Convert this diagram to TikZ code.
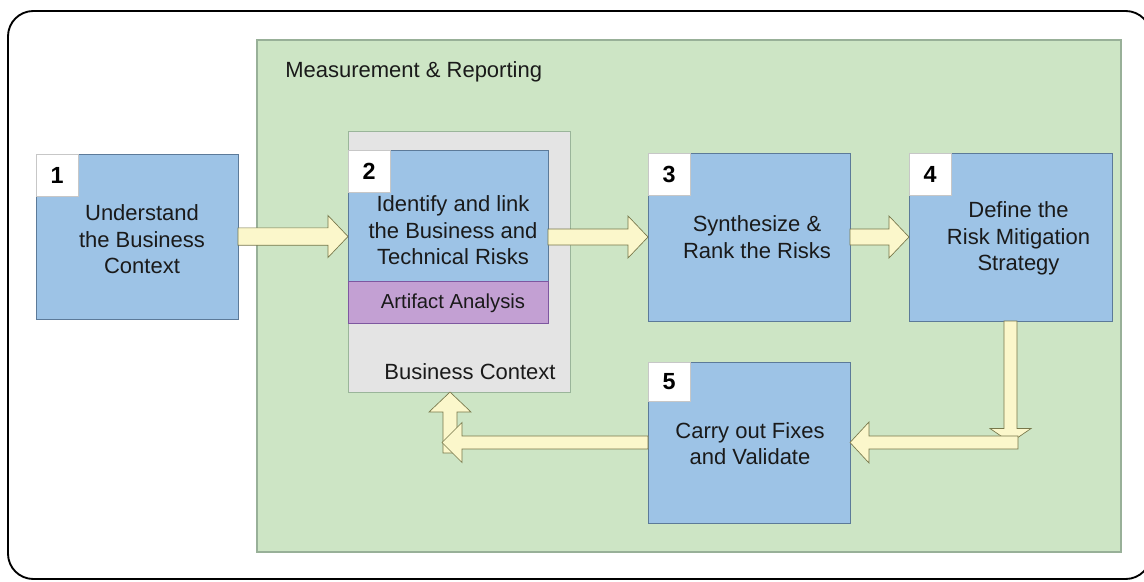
\documentclass[tikz,border=0pt]{standalone}
\usepackage{fontspec}
\setmainfont{Liberation Sans}
\usetikzlibrary{calc}

\definecolor{stepblue}{HTML}{9DC3E6}
\definecolor{stepedge}{HTML}{5C7A99}
\definecolor{areagreen}{HTML}{CDE5C5}
\definecolor{areaedge}{HTML}{98B098}
\definecolor{ctxgray}{HTML}{E4E4E4}
\definecolor{ctxedge}{HTML}{9AB59A}
\definecolor{artpurple}{HTML}{C3A0D3}
\definecolor{artedge}{HTML}{7E57A0}
\definecolor{flowfill}{HTML}{FBF7CB}
\definecolor{flowedge}{HTML}{77774A}
\definecolor{inktext}{HTML}{1A1A1A}

% Block arrow from #1 to #2: shaft half-width #3, head half-width #4, head length #5
\newcommand{\blockflow}[5]{%
  \path (#1) coordinate (ba-s) (#2) coordinate (ba-e);
  \path ($(ba-e)!#5!(ba-s)$) coordinate (ba-h);
  \draw[flowarrow]
    ($(ba-s)!#3!90:(ba-e)$) -- ($(ba-h)!#3!-90:(ba-s)$) --
    ($(ba-h)!#4!-90:(ba-s)$) -- (ba-e) --
    ($(ba-h)!#4!90:(ba-s)$) -- ($(ba-h)!#3!90:(ba-s)$) --
    ($(ba-s)!#3!-90:(ba-e)$) -- cycle;
}

\tikzset{
  stepbox/.style={draw=stepedge, line width=0.6pt, fill=stepblue,
    inner sep=0pt, outer sep=0pt},
  numbox/.style={draw=black!22, line width=0.6pt, fill=white, inner sep=0pt,
    outer sep=0pt, minimum width=31.5pt, minimum height=31.5pt,
    anchor=north west, font=\fontsize{17.5}{20}\selectfont\bfseries, text=black},
  lbl/.style={align=center, inner sep=0pt, text=inktext,
    font=\fontsize{16.5}{19.9}\selectfont},
  flowarrow/.style={fill=flowfill, draw=flowedge, line width=0.5pt, line join=miter},
}

\begin{document}
\begin{tikzpicture}[x=0.75pt, y=-0.75pt]
\useasboundingbox (0,0) rectangle (1144,581);

% outer frame: open on the right, only the two right-hand bends show
\begin{scope}
\clip (0,0) rectangle (1144,581);
\draw[line width=1.4pt, rounded corners=19pt] (8,11) rectangle (1151,579);
\end{scope}

% measurement & reporting area
\node[draw=areaedge, line width=0.8pt, fill=areagreen, inner sep=0pt, outer sep=0pt,
  minimum width=648pt, minimum height=384pt] (area) at (689,296) {};
\node[lbl, anchor=west] (arealbl) at ($(area.north west)+(28,32)$) {Measurement \& Reporting};

% business context container
\node[draw=ctxedge, line width=0.7pt, fill=ctxgray, inner sep=0pt, outer sep=0pt,
  minimum width=166.5pt, minimum height=195.75pt] (ctx) at (459,261.5) {};

% process steps
\node[stepbox, minimum width=151.5pt, minimum height=123.75pt] (b1) at (137,236.5) {};
\node[stepbox, minimum width=150pt, minimum height=98.25pt] (b2) at (448,215.5) {};
\node[draw=artedge, line width=0.6pt, fill=artpurple, inner sep=0pt, outer sep=0pt,
  minimum width=150pt, minimum height=31.5pt] (art) at (448,302) {};
\node[stepbox, minimum width=151.5pt, minimum height=126pt] (b3) at (749,237) {};
\node[stepbox, minimum width=152.25pt, minimum height=126pt] (b4) at (1010.5,237) {};
\node[stepbox, minimum width=151.5pt, minimum height=120.75pt] (b5) at (749,442.5) {};

% step numbers
\node[numbox] (n1) at (b1.north west) {1};
\node[numbox] (n2) at (b2.north west) {2};
\node[numbox] (n3) at (b3.north west) {3};
\node[numbox] (n4) at (b4.north west) {4};
\node[numbox, minimum height=29.25pt] (n5) at (b5.north west) {5};

% texts
\node[lbl] (t1) at ($(b1)+(5,3)$) {Understand\\the Business\\Context};
\node[lbl] (t2) at ($(b2)+(5,15)$) {Identify and link\\the Business and\\Technical Risks};
\node[lbl, font=\fontsize{15.2}{18}\selectfont] (artlbl) at ($(art)+(5,1)$) {Artifact Analysis};
\node[lbl] (ctxlbl) at ($(ctx)+(11,110)$) {Business Context};
\node[lbl] (t3) at ($(b3)+(8,0)$) {Synthesize \&\\Rank the Risks};
\node[lbl] (t4) at ($(b4)+(8,1.5)$) {Define the\\Risk Mitigation\\Strategy};
\node[lbl] (t5) at ($(b5)+(1,1)$) {Carry out Fixes\\and Validate};

% forward flow
\blockflow{b1.east}{b1.east -| ctx.west}{6.5pt}{15.75pt}{15pt}
\blockflow{b2.east |- b3.west}{b3.west}{6pt}{15.75pt}{15pt}
\blockflow{b3.east}{b4.west}{6pt}{15.75pt}{15pt}

% return flow
\coordinate (turn) at (b4.south |- b5.east);
\blockflow{b4.south}{turn}{4.9pt}{15.4pt}{10.5pt}
\blockflow{$(turn)+(7.5,0)$}{b5.east}{4.9pt}{15.4pt}{14.25pt}

\coordinate (up) at ($(ctx.south)+(-9,61)$);
\coordinate (lefttip) at ($(b5.west -| up)+(-8,0)$);
\blockflow{up}{up |- ctx.south}{5.25pt}{15.75pt}{15pt}
\blockflow{b5.west}{lefttip}{4.9pt}{15pt}{15pt}
\end{tikzpicture}
\end{document}
